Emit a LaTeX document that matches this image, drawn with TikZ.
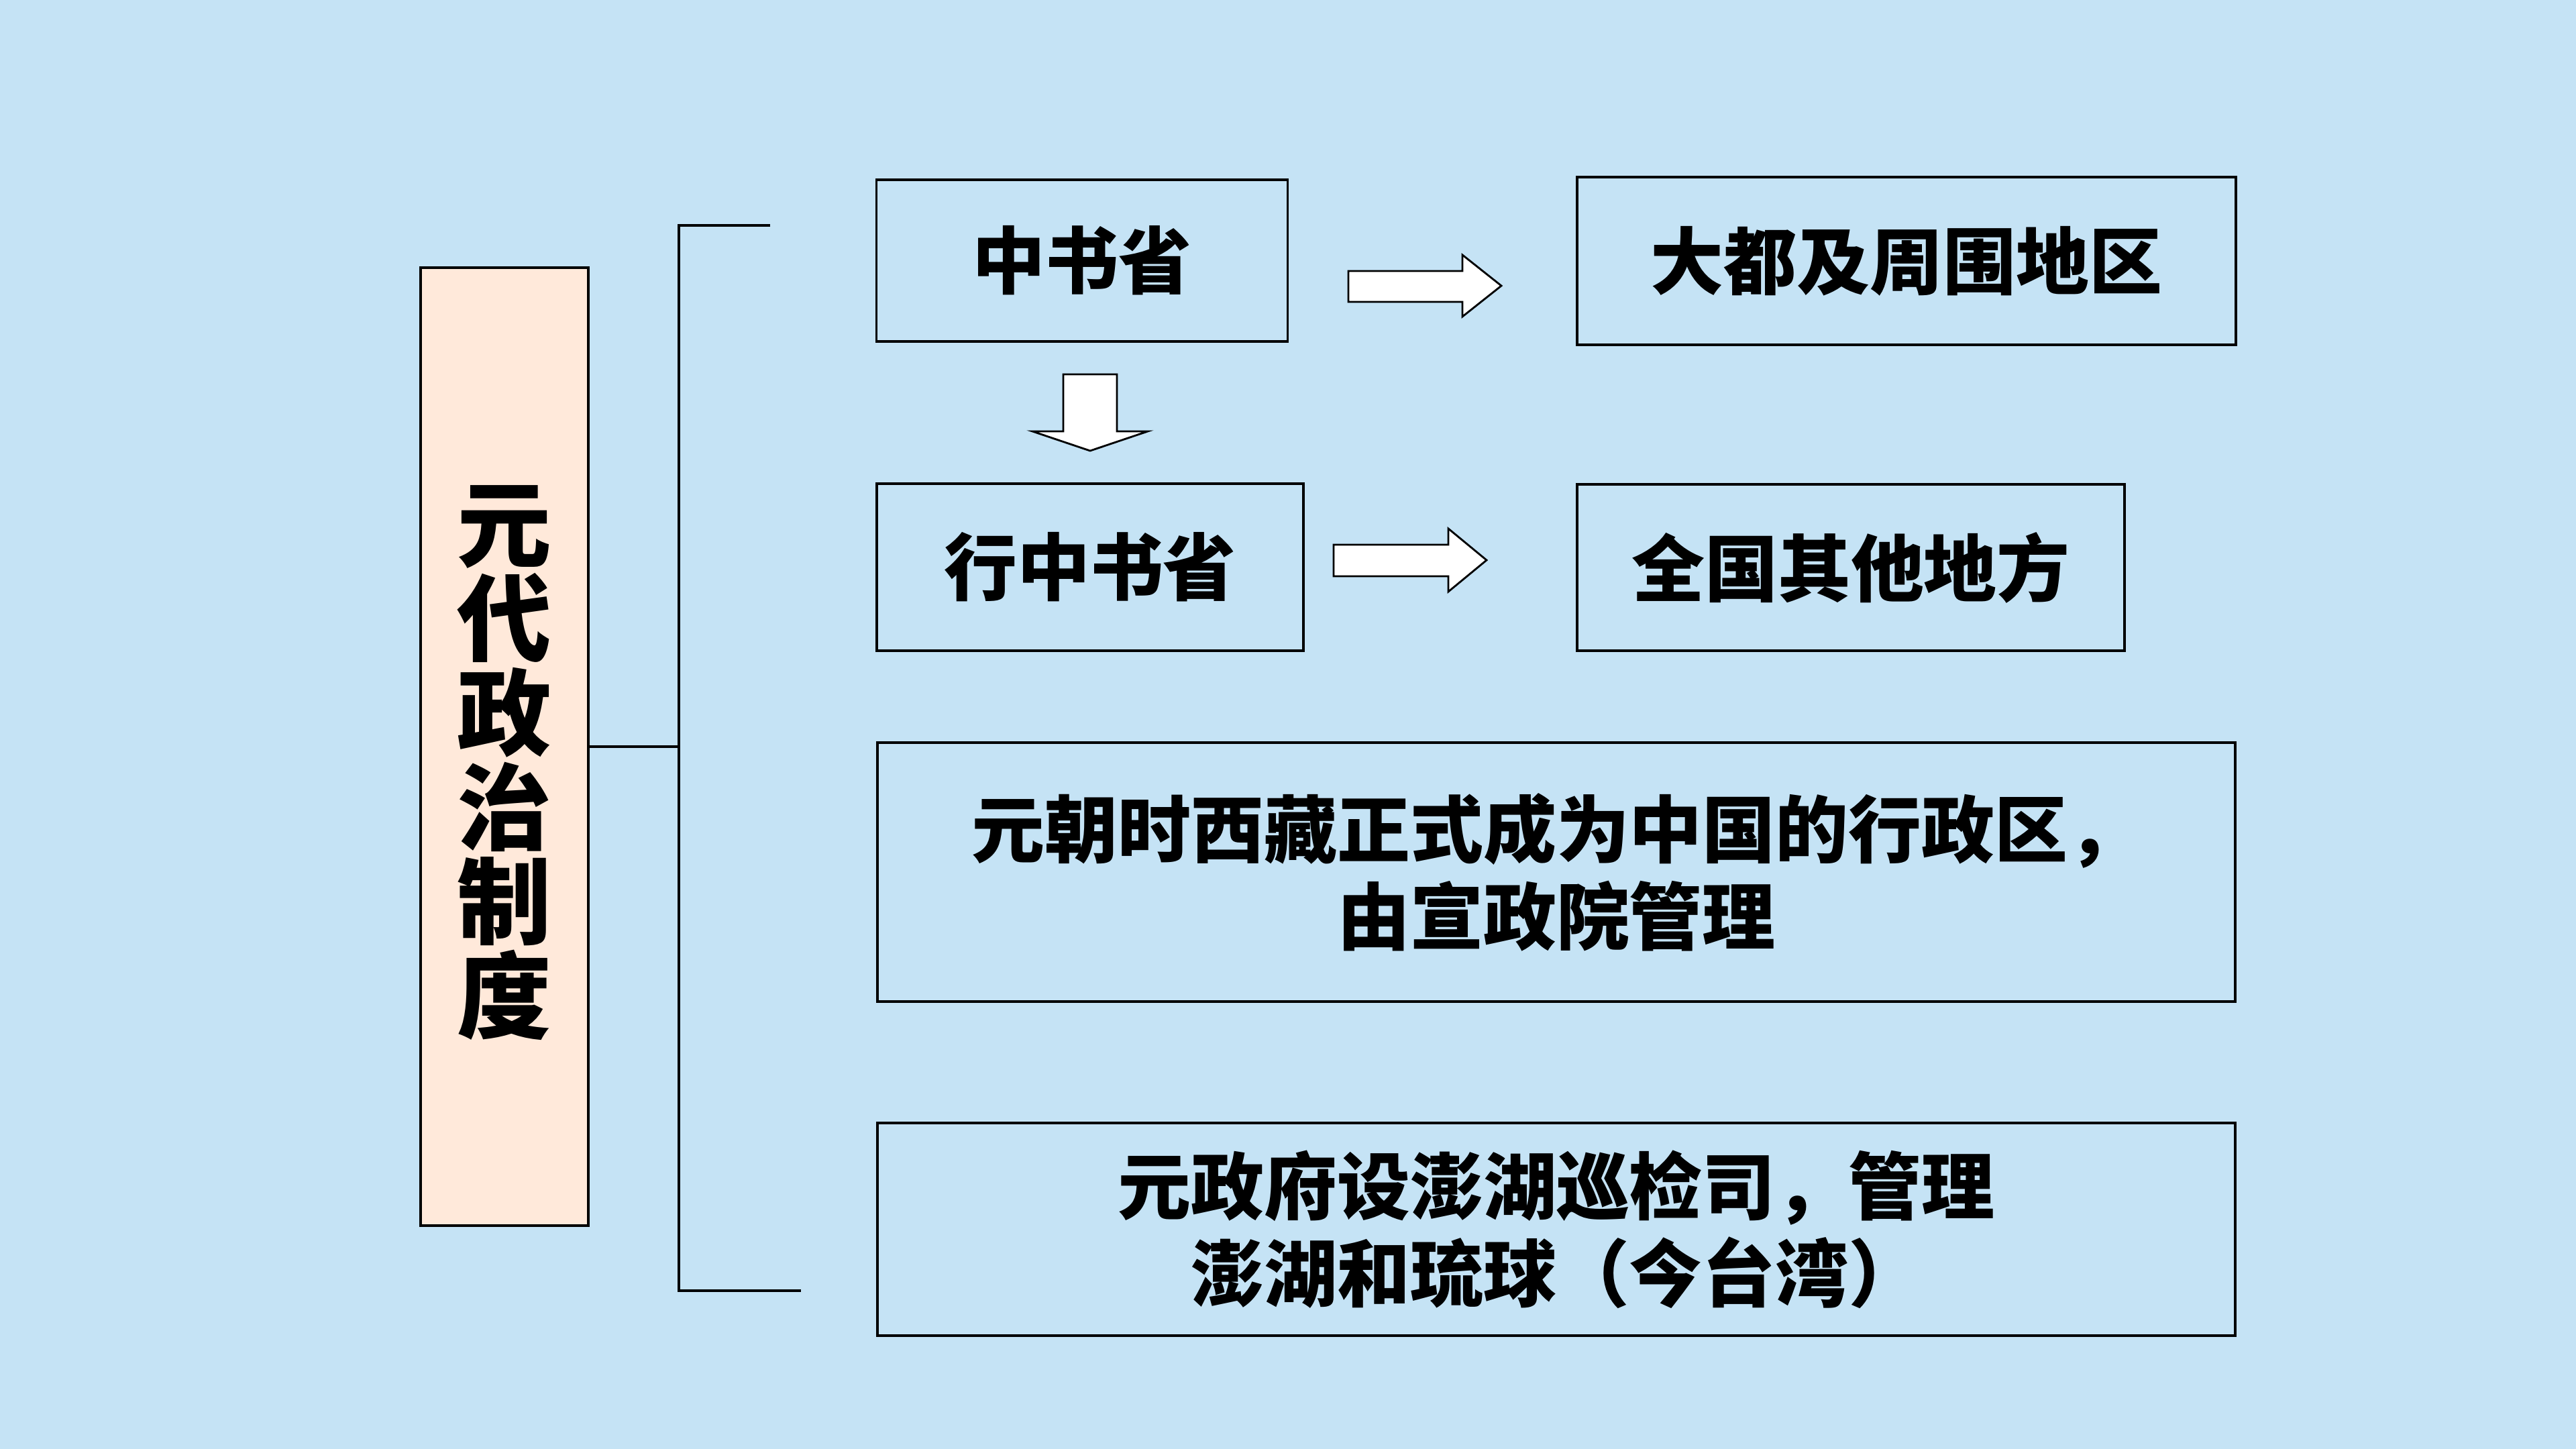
\documentclass[tikz,border=0pt]{standalone}
\usepackage{fontspec}
\setmainfont{Noto Sans CJK SC}
\definecolor{bg}{RGB}{197,227,245}
\definecolor{peach}{RGB}{255,233,218}
\begin{document}
\begin{tikzpicture}[x=1cm,y=-1cm,
  box/.style={draw=black, line width=0.9pt, inner sep=0pt, align=center,
    font=\fontsize{31}{37}\selectfont\bfseries},
  blockarrow/.style={draw=black, fill=white, line width=0.8pt, line join=miter},
  bracketline/.style={draw=black, line width=0.9pt}]
\fill[bg] (0,0) rectangle (38.4,21.6);
\useasboundingbox (0,0) rectangle (38.4,21.6);

% left title box
\node[box, fill=peach, line width=1.2pt, minimum width=2.50cm, minimum height=14.28cm] (lb) at (7.52,11.13) {};
\node[inner sep=0pt, align=center, font=\fontsize{40}{40}\selectfont\bfseries] (lbt) at (7.52,11.37) {元\\代\\政\\治\\制\\度};

% bracket
\coordinate (bt) at (10.12,3.36);
\coordinate (bb) at (10.12,19.24);
\coordinate (btr) at (11.48,3.36);
\coordinate (bbr) at (11.94,19.24);
\draw[bracketline] (lb.east) -- (lb.east -| bt);
\draw[bracketline] (btr) -- (bt) -- (bb) -- (bbr);

% boxes
\node[box, minimum width=6.13cm, minimum height=2.41cm] (zsx) at (16.13,3.885) {中书省};
\node[box, minimum width=9.82cm, minimum height=2.50cm] (dd) at (28.42,3.89) {大都及周围地区};
\node[box, minimum width=6.36cm, minimum height=2.49cm] (xzs) at (16.25,8.455) {行中书省};
\node[box, minimum width=8.16cm, minimum height=2.48cm] (qg) at (27.59,8.46) {全国其他地方};
\node[box, minimum width=20.24cm, minimum height=3.86cm] (b3) at (23.20,13.00) {元朝时西藏正式成为中国的行政区，\\由宣政院管理};
\node[box, minimum width=20.24cm, minimum height=3.17cm] (b4) at (23.20,18.325) {元政府设澎湖巡检司，管理\\澎湖和琉球（今台湾）};

% block arrows
\draw[blockarrow] (20.10,4.04) -- (21.80,4.04) -- (21.80,3.80) -- (22.38,4.26) -- (21.80,4.72) -- (21.80,4.50) -- (20.10,4.50) -- cycle;
\draw[blockarrow] (19.88,8.12) -- (21.59,8.12) -- (21.59,7.88) -- (22.16,8.35) -- (21.59,8.82) -- (21.59,8.59) -- (19.88,8.59) -- cycle;
\draw[blockarrow] (15.85,5.58) -- (16.65,5.58) -- (16.65,6.43) -- (17.11,6.43) -- (16.25,6.72) -- (15.39,6.43) -- (15.85,6.43) -- cycle;
\end{tikzpicture}
\end{document}
